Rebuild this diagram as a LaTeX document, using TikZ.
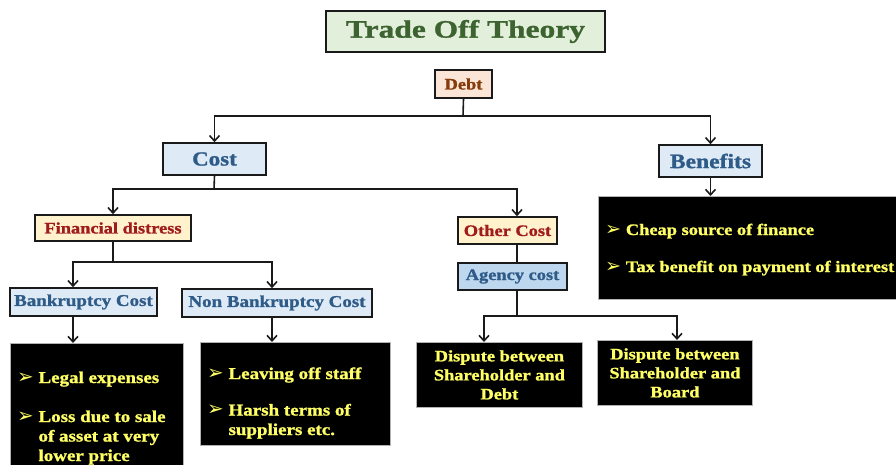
\documentclass[tikz,border=0pt]{standalone}
\usepackage{fontspec}
\setmainfont{Liberation Serif}[FakeStretch=1.15, BoldFeatures={FakeBold=1.2}]
\newfontfamily\titlefont{Liberation Serif}[FakeStretch=1.26, BoldFeatures={FakeBold=1.2}]
\newfontfamily\symfont{DejaVu Sans}[Scale=1.2]
\usetikzlibrary{arrows.meta}
\definecolor{titlefill}{HTML}{E2EFDA}
\definecolor{titletext}{HTML}{3D6430}
\definecolor{debtfill}{HTML}{FBE5D6}
\definecolor{debttext}{HTML}{843C0C}
\definecolor{bluefill}{HTML}{DEEBF7}
\definecolor{agencyfill}{HTML}{BDD7EE}
\definecolor{bluetext}{HTML}{2F5B88}
\definecolor{creamfill}{HTML}{FFF2CC}
\definecolor{redtext}{HTML}{A01C1C}
\definecolor{yel}{HTML}{FFFF66}
\definecolor{edge}{HTML}{1A1A1A}
\newcommand{\bul}{{\symfont\char"27A2}\ }
\tikzset{
  x=1pt, y=-1pt,
  basebox/.style={draw=edge, line width=1.6pt, inner sep=0pt, font=\bfseries},
  titlebox/.style={basebox, fill=titlefill, text=titletext, font=\titlefont\bfseries\fontsize{25}{27}\selectfont},
  debtbox/.style={basebox, fill=debtfill, text=debttext, font=\bfseries\fontsize{16}{18}\selectfont},
  bluebox/.style={basebox, fill=bluefill, text=bluetext},
  creambox/.style={basebox, fill=creamfill, text=redtext, font=\bfseries\fontsize{16}{18}\selectfont},
  darkbox/.style={draw=gray!60, line width=0.8pt, fill=black, inner sep=0pt},
  darktext/.style={text=yel, inner sep=0pt, font=\bfseries\fontsize{16.5}{19.5}\selectfont},
  disptext/.style={darkbox, text=yel, align=center, font=\bfseries\fontsize{16}{19}\selectfont},
  conn/.style={draw=edge, line width=1.6pt},
  arr/.style={conn, -{Straight Barb[length=5.5pt,width=10pt,line width=1.6pt]}},
}
\begin{document}
\begin{tikzpicture}
\useasboundingbox (0,0) rectangle (896,464);
% title
\node[titlebox, minimum width=279, minimum height=41] (title) at (465.5,31.5) {Trade Off Theory};
\node[debtbox, minimum width=57, minimum height=28] (debt) at (463.5,84) {Debt};
% level 1
\node[bluebox, minimum width=103, minimum height=32, font=\bfseries\fontsize{20}{22}\selectfont] (cost) at (214.5,159) {Cost};
\node[bluebox, minimum width=103, minimum height=32, font=\bfseries\fontsize{20.5}{22}\selectfont] (ben) at (710.5,161) {Benefits};
% benefits box
\node[darkbox, minimum width=300, minimum height=103, anchor=north west] (benbox) at (598,196) {};
\node[darktext, anchor=base west, font=\bfseries\fontsize{16}{19}\selectfont] (bent1) at (605,235) {\bul Cheap source of finance};
\node[darktext, anchor=base west, font=\bfseries\fontsize{16}{19}\selectfont] (bent2) at (605,272) {\bul Tax benefit on payment of interest};
% level 2
\node[creambox, minimum width=156, minimum height=26] (fin) at (113,228) {Financial distress};
\node[creambox, minimum width=99, minimum height=27] (oth) at (507.5,230.5) {Other Cost};
\node[basebox, fill=agencyfill, text=bluetext, font=\bfseries\fontsize{16}{18}\selectfont, minimum width=109, minimum height=27] (agy) at (512.5,276.5) {Agency cost};
% level 3
\node[bluebox, font=\bfseries\fontsize{16.5}{18}\selectfont, minimum width=147, minimum height=28] (bk) at (83.5,302) {Bankruptcy Cost};
\node[bluebox, font=\bfseries\fontsize{16.5}{18}\selectfont, minimum width=190, minimum height=28] (nbk) at (277,303) {Non Bankruptcy Cost};
% bottom boxes
\node[darkbox, minimum width=173, minimum height=125, anchor=north west] (bkbox) at (10,343) {};
\node[darktext, anchor=base west] (bkt1) at (17,383) {\bul Legal expenses};
\node[darktext, anchor=base west, align=left] (bkt2) at (17,461) {\bul Loss due to sale\\\phantom{\bul}of asset at very\\\phantom{\bul}lower price};
\node[darkbox, minimum width=190, minimum height=103, anchor=north west] (nbkbox) at (200,342) {};
\node[darktext, anchor=base west] (nbkt1) at (207,379) {\bul Leaving off staff};
\node[darktext, anchor=base west, align=left] (nbkt2) at (207,435) {\bul Harsh terms of\\\phantom{\bul}suppliers etc.};
\node[disptext, minimum width=166, minimum height=65, anchor=north west] (d1) at (416,342) {Dispute between\\Shareholder and\\Debt};
\node[disptext, minimum width=155, minimum height=65, anchor=north west] (d2) at (597,340) {Dispute between\\Shareholder and\\Board};
% connectors
\coordinate (j1) at (463,116);
\draw[conn] (debt.south) -- (j1);
\draw[arr] (j1) -| (cost.north);
\draw[arr] (j1) -| (ben.north);
\draw[arr] (ben.south) -- (ben.south |- benbox.north);
\coordinate (j2) at (214,189);
\draw[conn] (cost.south) -- (j2);
\draw[arr] (j2) -| (fin.north);
\draw[arr] (j2) -| (oth.north -| 517,0);
\draw[conn] (oth.south -| 517,0) -- (agy.north -| 517,0);
\coordinate (j3) at (113,262);
\draw[conn] (fin.south) -- (j3);
\draw[arr] (j3) -| (bk.north -| 73,0);
\draw[arr] (j3) -| (nbk.north -| 272,0);
\draw[arr] (bk.south -| 73,0) -- (bkbox.north -| 73,0);
\draw[arr] (nbk.south -| 272,0) -- (nbkbox.north -| 272,0);
\coordinate (j4) at (517,316);
\draw[conn] (agy.south -| 517,0) -- (j4);
\draw[arr] (j4) -| (d1.north -| 484,0);
\draw[arr] (j4) -| (d2.north -| 677,0);
\end{tikzpicture}
\end{document}
